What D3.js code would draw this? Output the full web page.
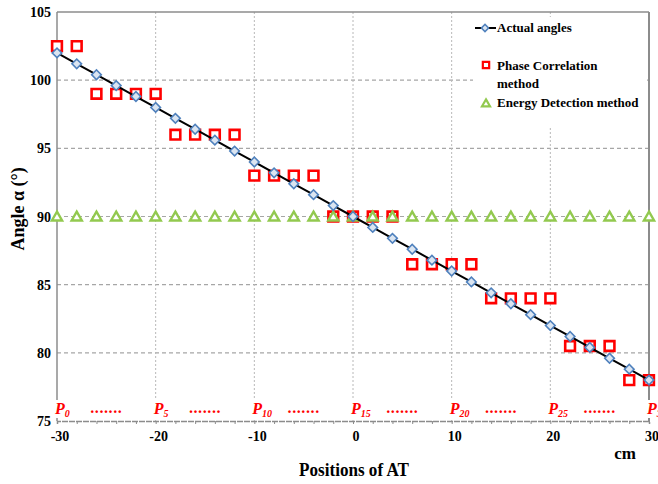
<!DOCTYPE html>
<html>
<head>
<meta charset="utf-8">
<script src="https://cdn.jsdelivr.net/npm/d3@7"></script>
<style>
  body { margin: 0; background: #fff; }
  text { font-family: "Liberation Serif", "Times New Roman", serif; font-weight: bold; }
</style>
</head>
<body>
<div id="chart"></div>
<script>
// positions of AT (cm), P0 .. P30
let positions = [-30, -28, -26, -24, -22, -20, -18, -16, -14, -12, -10, -8, -6, -4, -2, 0,
                 2, 4, 6, 8, 10, 12, 14, 16, 18, 20, 22, 24, 26, 28, 30]
let actualAngles = [102, 101.2, 100.4, 99.6, 98.8, 98, 97.2, 96.4, 95.6, 94.8, 94, 93.2, 92.4, 91.6, 90.8, 90,
                    89.2, 88.4, 87.6, 86.8, 86, 85.2, 84.4, 83.6, 82.8, 82, 81.2, 80.4, 79.6, 78.8, 78]
let phaseCorr = [102.5, 102.5, 99, 99, 99, 99, 96, 96, 96, 96, 93, 93, 93, 93, 90, 90,
                 90, 90, 86.5, 86.5, 86.5, 86.5, 84, 84, 84, 84, 80.5, 80.5, 80.5, 78, 78]
let energyDet = [90, 90, 90, 90, 90, 90, 90, 90, 90, 90, 90, 90, 90, 90, 90, 90,
                 90, 90, 90, 90, 90, 90, 90, 90, 90, 90, 90, 90, 90, 90, 90]
let xTicks = [-30, -20, -10, 0, 10, 20, 30]
let yTicks = [75, 80, 85, 90, 95, 100, 105]
let pLabels = [{x: -30, n: "0"}, {x: -20, n: "5"}, {x: -10, n: "10"}, {x: 0, n: "15"},
               {x: 10, n: "20"}, {x: 20, n: "25"}, {x: 30, n: "30"}]
let dotPositions = [-25, -15, -5, 5, 15, 25]

let width = 658, height = 484
let margin = {top: 12, right: 9, bottom: 63, left: 57}

let svg = d3.select('#chart').append('svg')
    .attr('width', width)
    .attr('height', height)

let x = d3.scaleLinear().domain([-30, 30]).range([margin.left, width - margin.right])
let y = d3.scaleLinear().domain([75, 105]).range([height - margin.bottom, margin.top])

// grid
svg.append('g').selectAll('line')
    .data(yTicks.filter(d => d > 75 && d < 105))
    .enter().append('line')
    .attr('x1', x(-30)).attr('x2', x(30))
    .attr('y1', d => y(d)).attr('y2', d => y(d))
    .style('stroke', '#a6a6a6').style('stroke-width', 1.2).style('stroke-dasharray', '4,3')

svg.append('g').selectAll('line')
    .data(xTicks.filter(d => d > -30 && d < 30))
    .enter().append('line')
    .attr('x1', d => x(d)).attr('x2', d => x(d))
    .attr('y1', y(105)).attr('y2', y(75))
    .style('stroke', '#b8b8b8').style('stroke-width', 1).style('stroke-dasharray', '2,2')

// frame
svg.append('line').attr('x1', x(-30)).attr('x2', x(30)).attr('y1', y(105)).attr('y2', y(105))
    .style('stroke', '#8c8c8c').style('stroke-width', 1.5)
svg.append('line').attr('x1', x(30)).attr('x2', x(30)).attr('y1', y(105)).attr('y2', y(75))
    .style('stroke', '#8c8c8c').style('stroke-width', 2)
svg.append('line').attr('x1', x(-30)).attr('x2', x(-30)).attr('y1', y(105)).attr('y2', y(75))
    .style('stroke', '#8c8c8c').style('stroke-width', 1.5)

// legend background
svg.append('rect').attr('x', 473).attr('y', 17).attr('width', 174).attr('height', 111).style('fill', '#fff')

// x axis (bottom, minor ticks every 2 cm)
let xAxis = d3.axisBottom(x).tickValues(positions).tickSize(3).tickFormat('')
let gx = svg.append('g').attr('transform', 'translate(0,' + y(75) + ')').call(xAxis)
gx.select('.domain').style('stroke', '#8c8c8c').style('stroke-width', 1.5).style('stroke-dasharray', '6,1')
gx.selectAll('.tick line').style('stroke', '#8c8c8c')

svg.append('g').selectAll('text')
    .data(xTicks)
    .enter().append('text')
    .attr('x', d => x(d) + 3).attr('y', 441)
    .attr('text-anchor', 'middle')
    .style('font-size', '14px')
    .text(d => d)

svg.append('g').selectAll('text')
    .data(yTicks)
    .enter().append('text')
    .attr('x', 51).attr('y', d => y(d) + 5)
    .attr('text-anchor', 'end')
    .style('font-size', '14px')
    .text(d => d)

// P labels along the bottom
let pg = svg.append('g')
pg.selectAll('rect')
    .data(pLabels)
    .enter().append('rect')
    .attr('x', d => x(d.x) - 2).attr('y', 400)
    .attr('width', 24).attr('height', 18)
    .style('fill', '#fff')
let pt = pg.selectAll('text.p')
    .data(pLabels)
    .enter().append('text')
    .attr('class', 'p')
    .attr('x', d => x(d.x) - 2).attr('y', 414)
    .style('fill', '#ff0000').style('font-style', 'italic').style('font-size', '16px')
pt.append('tspan').text('P')
pt.append('tspan').attr('dy', 3).style('font-size', '10px').text(d => d.n)

pg.selectAll('text.dots')
    .data(dotPositions)
    .enter().append('text')
    .attr('class', 'dots')
    .attr('x', d => x(d)).attr('y', 413)
    .attr('text-anchor', 'middle')
    .style('fill', '#ff0000').style('font-size', '16px').style('letter-spacing', '0.6px')
    .text('.......')

// axis titles
svg.append('text')
    .attr('transform', 'translate(24,209) rotate(-90)')
    .attr('text-anchor', 'middle')
    .style('font-size', '18px')
    .text('Angle α (°)')

svg.append('text')
    .attr('x', 354).attr('y', 476)
    .attr('text-anchor', 'middle')
    .attr('transform', 'translate(354,0) scale(0.9,1) translate(-354,0)')
    .style('font-size', '19px')
    .text('Positions of AT')

svg.append('text')
    .attr('x', 625).attr('y', 459)
    .attr('text-anchor', 'middle')
    .style('font-size', '17px')
    .text('cm')

let squareColor = '#ff0000', triColor = '#92c94f', diaColor = '#4f81bd'
let sym = d3.symbol()

// phase correlation squares
svg.append('g').selectAll('path')
    .data(positions)
    .enter().append('path')
    .attr('transform', (d, i) => 'translate(' + x(d) + ',' + y(phaseCorr[i]) + ')')
    .attr('d', sym.type(d3.symbolSquare).size(95)())
    .style('fill', '#fff').style('stroke', squareColor).style('stroke-width', 2.6)

// energy detection triangles
svg.append('g').selectAll('path')
    .data(positions)
    .enter().append('path')
    .attr('transform', (d, i) => 'translate(' + x(d) + ',' + (y(energyDet[i]) + 1) + ')')
    .attr('d', sym.type(d3.symbolTriangle).size(45)())
    .style('fill', '#fff').style('stroke', triColor).style('stroke-width', 2.4)

// actual angles
let line = d3.line()
    .x(d => x(d))
    .y((d, i) => y(actualAngles[i]))
svg.append('path').datum(positions)
    .attr('d', line)
    .style('fill', 'none').style('stroke', '#000').style('stroke-width', 2)

svg.append('g').selectAll('path')
    .data(positions)
    .enter().append('path')
    .attr('transform', (d, i) => 'translate(' + x(d) + ',' + y(actualAngles[i]) + ') rotate(45)')
    .attr('d', sym.type(d3.symbolSquare).size(46)())
    .style('fill', '#dbe5f1').style('stroke', diaColor).style('stroke-width', 1.6)

// legend
let lg = svg.append('g')
lg.append('line').attr('x1', 475).attr('x2', 496).attr('y1', 28).attr('y2', 28)
    .style('stroke', '#000').style('stroke-width', 2)
lg.append('path').attr('transform', 'translate(485,28) rotate(45)')
    .attr('d', sym.type(d3.symbolSquare).size(26)())
    .style('fill', '#dbe5f1').style('stroke', diaColor).style('stroke-width', 1.5)
lg.append('text').attr('x', 497).attr('y', 32).style('font-size', '13px').text('Actual angles')

lg.append('path').attr('transform', 'translate(486,65)')
    .attr('d', sym.type(d3.symbolSquare).size(40)())
    .style('fill', '#fff').style('stroke', squareColor).style('stroke-width', 2.2)
lg.append('text').attr('x', 497).attr('y', 70).style('font-size', '13px').text('Phase Correlation')
lg.append('text').attr('x', 497).attr('y', 88).style('font-size', '13px').text('method')

lg.append('path').attr('transform', 'translate(486,104)')
    .attr('d', sym.type(d3.symbolTriangle).size(28)())
    .style('fill', '#fff').style('stroke', triColor).style('stroke-width', 2.2)
lg.append('text').attr('x', 497).attr('y', 107).style('font-size', '13px').text('Energy Detection method')
</script>
</body>
</html>
